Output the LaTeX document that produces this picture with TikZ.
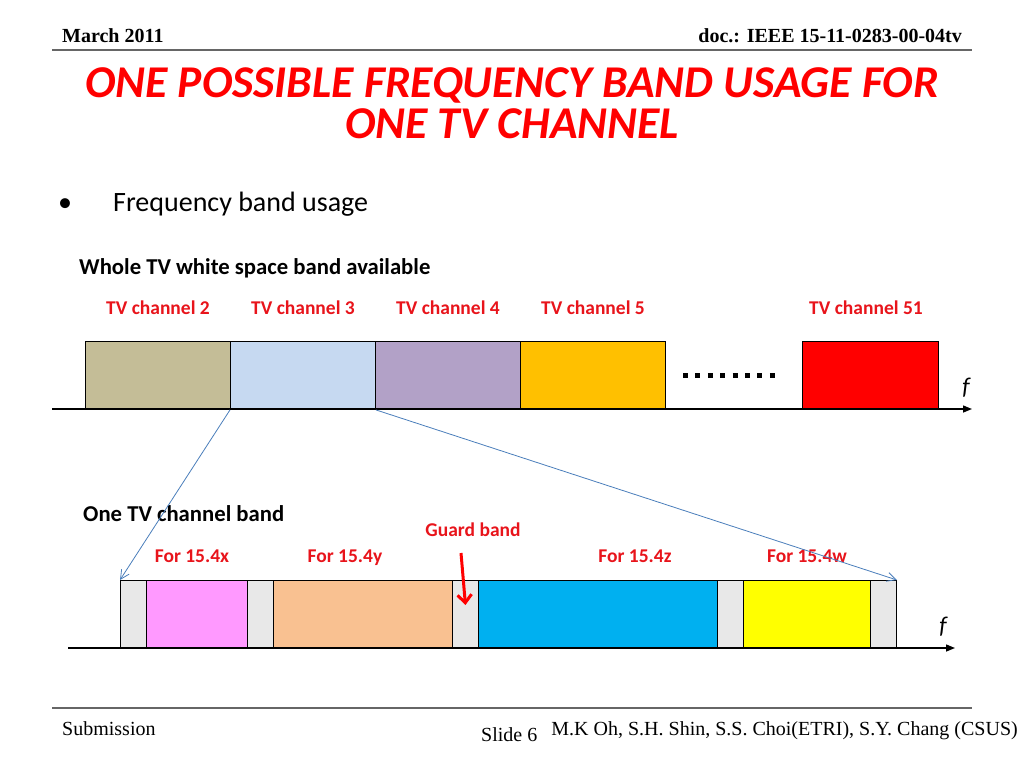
\documentclass[tikz,border=0pt]{standalone}
\usepackage{fontspec}
\setmainfont{Carlito}
\newfontfamily\timesf{Liberation Serif}
\usetikzlibrary{arrows.meta}
\definecolor{tvtwo}{HTML}{C4BD97}
\definecolor{tvthree}{HTML}{C6D9F1}
\definecolor{tvfour}{HTML}{B2A1C7}
\definecolor{tvfive}{HTML}{FFC000}
\definecolor{tvfo}{HTML}{FF0000}
\definecolor{gbgrey}{HTML}{E8E8E8}
\definecolor{xpink}{HTML}{FF99FF}
\definecolor{ypeach}{HTML}{F9C191}
\definecolor{zblue}{HTML}{00B0F0}
\definecolor{wyellow}{HTML}{FFFF00}
\definecolor{linkblue}{HTML}{4A7EBB}
\definecolor{titlered}{HTML}{FF0000}
\definecolor{lblred}{HTML}{E8141B}
\tikzset{
  band/.style={draw=black, line width=0.9pt, inner sep=0pt, anchor=north west, minimum height=68pt},
  chlabel/.style={text=lblred, font=\fontsize{19.5}{21}\selectfont\bfseries, inner sep=0pt, anchor=base},
  hdr/.style={font=\timesf\fontsize{20}{22}\selectfont\bfseries, inner sep=0pt},
  ftr/.style={font=\timesf\fontsize{20}{22}\selectfont, inner sep=0pt},
  axis/.style={line width=1.4pt, -{Triangle[length=9pt,width=7pt]}},
  link/.style={draw=linkblue, line width=0.8pt, -{Straight Barb[length=9pt,width=9pt]}},
  flabel/.style={font=\fontsize{24}{26}\selectfont\itshape, inner sep=0pt, anchor=base},
}
\begin{document}
\begin{tikzpicture}[x=1pt,y=-1pt]
\useasboundingbox (0,0) rectangle (1024,768);
% header
\node[hdr, anchor=base west] (date) at (62,42) {March 2011};
\node[hdr, anchor=base east] (doc) at (962,42) {doc.: IEEE 15-11-0283-00-04tv};
\coordinate (hl1) at (52,50); \coordinate (hr1) at (972,50);
\draw[line width=1.2pt, black!60] (hl1) -- (hr1);
% title
\node[text=titlered, font=\fontsize{45.5}{41}\selectfont\bfseries\itshape, align=center, anchor=base, inner sep=0pt] (title) at (512,138) {ONE POSSIBLE FREQUENCY BAND USAGE FOR\\ONE TV CHANNEL};
% bullet
\node[font=\fontsize{28}{30}\selectfont, anchor=base west, inner sep=0pt] (bul) at (58,211) {•};
\node[font=\fontsize{28}{30}\selectfont, anchor=base west, inner sep=0pt] (fbu) at (113,211) {Frequency band usage};
\node[font=\fontsize{22.7}{24}\selectfont\bfseries, anchor=base west, inner sep=0pt] (whole) at (79,274) {Whole TV white space band available};
% top boxes
\node[band, fill=tvtwo, minimum width=145pt] (c2) at (85,341) {};
\node[band, fill=tvthree, minimum width=145pt] (c3) at (230,341) {};
\node[band, fill=tvfour, minimum width=145pt] (c4) at (375,341) {};
\node[band, fill=tvfive, minimum width=145pt] (c5) at (520,341) {};
\node[band, fill=tvfo, minimum width=136pt] (c51) at (802,341) {};
\node[chlabel] (l2) at (158,314) {TV channel 2};
\node[chlabel] (l3) at (303,314) {TV channel 3};
\node[chlabel] (l4) at (448,314) {TV channel 4};
\node[chlabel] (l5) at (593,314) {TV channel 5};
\node[chlabel] (l51) at (866,314) {TV channel 51};
\coordinate (d1) at (683,375); \coordinate (d2) at (775,375);
\draw[line width=5pt, dash pattern=on 5pt off 7.4pt] (d1) -- (d2);
\coordinate (a1s) at (52,409); \coordinate (a1e) at (972,409);
\draw[axis] (a1s) -- (a1e);
\node[flabel] (f1) at (966,394) {f};
% bottom
\node[font=\fontsize{22.7}{24}\selectfont\bfseries, anchor=base west, inner sep=0pt] (one) at (83,521) {One TV channel band};
\node[band, fill=gbgrey, minimum width=26pt] (g1) at (120,580) {};
\node[band, fill=xpink, minimum width=101pt] (bx) at (146,580) {};
\node[band, fill=gbgrey, minimum width=26pt] (g2) at (247,580) {};
\node[band, fill=ypeach, minimum width=179pt] (by) at (273,580) {};
\node[band, fill=gbgrey, minimum width=26pt] (g3) at (452,580) {};
\node[band, fill=zblue, minimum width=239pt] (bz) at (478,580) {};
\node[band, fill=gbgrey, minimum width=26pt] (g4) at (717,580) {};
\node[band, fill=wyellow, minimum width=127pt] (bw) at (743,580) {};
\node[band, fill=gbgrey, minimum width=26pt] (g5) at (870,580) {};
\node[chlabel] (lx) at (192,562) {For 15.4x};
\node[chlabel] (ly) at (345,562) {For 15.4y};
\node[chlabel] (lz) at (635,562) {For 15.4z};
\node[chlabel] (lw) at (807,562) {For 15.4w};
\node[chlabel] (gb) at (473,536) {Guard band};
\coordinate (ga) at (461,553);
\draw[draw=red, line width=3pt, -{Straight Barb[length=8pt,width=14pt]}] (ga) -- (g3.center |- 0,605);
\coordinate (a2s) at (68,648); \coordinate (a2e) at (955,648);
\draw[axis] (a2s) -- (a2e);
\node[flabel] (f2) at (943,633) {f};
% zoom links
\draw[link] (c3.south west) -- (g1.north west);
\draw[link] (c3.south east) -- (g5.north east);
% footer
\coordinate (fl1) at (52,708); \coordinate (fr1) at (972,708);
\draw[line width=1.2pt, black!60] (fl1) -- (fr1);
\node[ftr, anchor=base west] (sub) at (62,735) {Submission};
\node[ftr, anchor=base west] (sl) at (481,741) {Slide 6};
\node[ftr, anchor=base east] (auth) at (1018,735) {M.K Oh, S.H. Shin, S.S. Choi(ETRI), S.Y. Chang (CSUS)};
\end{tikzpicture}
\end{document}
